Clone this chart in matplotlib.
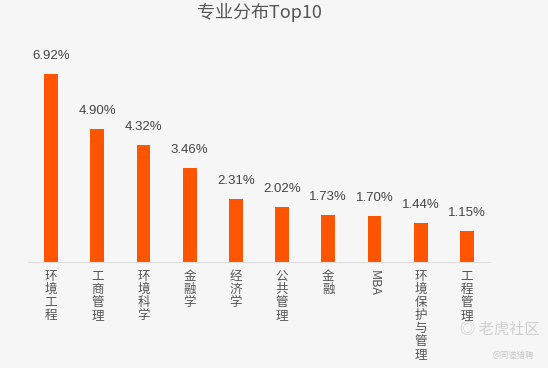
import matplotlib.pyplot as plt

plt.rcParams['font.family'] = ['Noto Sans CJK SC', 'DejaVu Sans']

majors = ['环境工程', '工商管理', '环境科学', '金融学', '经济学',
          '公共管理', '金融', 'MBA', '环境保护与管理', '工程管理']
shares = [6.92, 4.90, 4.32, 3.46, 2.31, 2.02, 1.73, 1.70, 1.44, 1.15]

bg = '#f6f6f6'
fig = plt.figure(figsize=(5.48, 3.68), dpi=100, facecolor=bg)
ax = fig.add_axes([0.0511, 0.288, 0.843, 0.591], facecolor=bg)

x = range(len(majors))
ax.bar(x, shares, width=0.3, color='#ff5500')
ax.set_xlim(-0.5, len(majors) - 0.5)
ax.set_ylim(0, 8)

for i, v in enumerate(shares):
    ax.annotate(f'{v:.2f}%', (i, v), xytext=(0, 13), textcoords='offset points',
                ha='center', va='center', fontsize=9.5, color='#444444',
                family=['Liberation Sans', 'DejaVu Sans'])

# vertical category labels
for i, name in enumerate(majors):
    if name.isascii():
        ax.text(i, -0.3, name, rotation=-90, ha='center', va='top',
                fontsize=9, color='#555555')
    else:
        ax.text(i, -0.3, '\n'.join(name), ha='center', va='top',
                fontsize=9, color='#555555', linespacing=1.0)

for s in ['top', 'right', 'left']:
    ax.spines[s].set_visible(False)
ax.spines['bottom'].set_color('#dddddd')
ax.set_xticks([])
ax.set_yticks([])

fig.text(0.473, 0.965, '专业分布Top10', ha='center', va='center',
         fontsize=13, color='#555555')

# watermark
fig.text(0.985, 0.105, '◎ 老虎社区', ha='right', va='center',
         fontsize=11, color='#d0d0d0')
fig.text(0.975, 0.035, '@同道猎聘', ha='right', va='center',
         fontsize=6, color='#c8c8c8')

fig.savefig('out.png', dpi=100, facecolor=bg)
